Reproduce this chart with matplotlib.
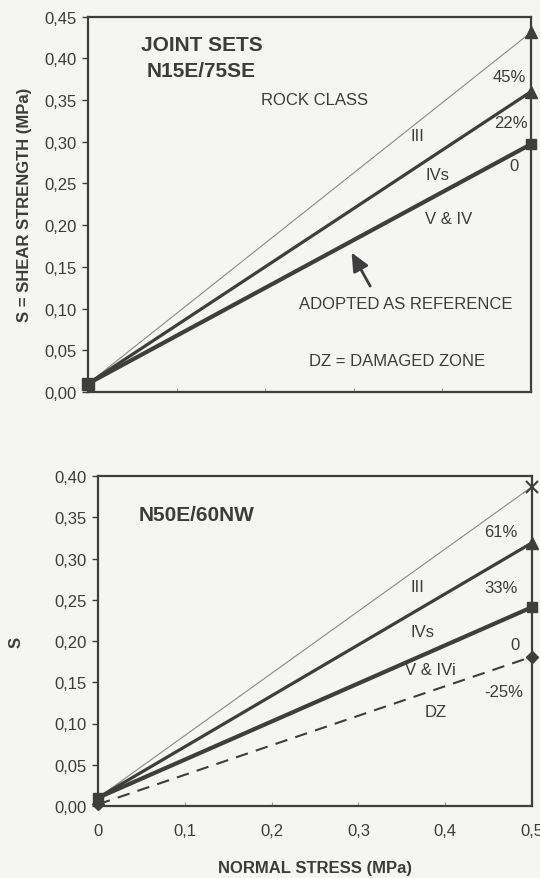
import matplotlib
matplotlib.use("Agg")
import matplotlib.pyplot as plt
import numpy as np

plt.rcParams['font.family'] = ['Liberation Sans', 'DejaVu Sans']

# ---- data ----
x_stress = [0.0, 0.5]
# top chart: joint set N15E/75SE
top_III = [0.010, 0.431]
top_IVs = [0.010, 0.360]
top_ref = [0.010, 0.297]
# bottom chart: joint set N50E/60NW
bot_X = [0.010, 0.387]
bot_III = [0.010, 0.319]
bot_IVs = [0.010, 0.241]
bot_DZ = [0.002, 0.181]

top_yticks = [0.00, 0.05, 0.10, 0.15, 0.20, 0.25, 0.30, 0.35, 0.40, 0.45]
bot_yticks = [0.00, 0.05, 0.10, 0.15, 0.20, 0.25, 0.30, 0.35, 0.40]
xticks = [0.0, 0.1, 0.2, 0.3, 0.4, 0.5]
xtick_labels = ["0", "0,1", "0,2", "0,3", "0,4", "0,5"]

BG = '#f5f5f3'
INK = '#3c3c3c'
LINE = '#3e3e3e'
THIN = '#8a8a8a'

fig = plt.figure(figsize=(5.4, 8.79), dpi=100, facecolor=BG)

def fmt(v):
    return f"{v:.2f}".replace('.', ',')

def style(ax, yticks, ymax):
    ax.set_facecolor(BG)
    ax.set_xlim(0, 0.5)
    ax.set_ylim(0, ymax)
    ax.set_yticks(yticks)
    ax.set_yticklabels([fmt(v) for v in yticks], fontsize=12, color=INK)
    ax.set_xticks(xticks)
    for s in ax.spines.values():
        s.set_color(LINE)
        s.set_linewidth(1.6)
    ax.tick_params(axis='y', direction='out', length=4, width=1, color=LINE, pad=4)
    ax.tick_params(axis='x', direction='in', length=3, width=0.8, color='#999999')

# ---------- top chart ----------
ax1 = fig.add_axes([88/540, 1-393/879, 443/540, 375.5/879])
style(ax1, top_yticks, 0.45)
ax1.set_xticklabels([])
ax1.plot(x_stress, top_III, color=THIN, lw=0.8, zorder=3)
ax1.plot(x_stress, top_IVs, color=LINE, lw=2.3, zorder=3)
ax1.plot(x_stress, top_ref, color=LINE, lw=3.0, zorder=3)
ax1.plot(x_stress[1], top_III[1], marker='^', ms=8, color=LINE, clip_on=False, zorder=5)
ax1.plot(x_stress[1], top_IVs[1], marker='^', ms=8, color=LINE, clip_on=False, zorder=5)
ax1.plot(x_stress[1], top_ref[1], marker='s', ms=7, color=LINE, clip_on=False, zorder=5)
ax1.plot(x_stress[0], top_ref[0], marker='s', ms=8, color=LINE, clip_on=False, zorder=5)
ax1.set_ylabel("S = SHEAR STRENGTH (MPa)", fontsize=12, fontweight='bold', color=INK, labelpad=9)

ax1.text(0.128, 0.401, "JOINT SETS\nN15E/75SE", fontsize=15, fontweight='bold',
         color=INK, ha='center', va='center', linespacing=1.45)
ax1.text(0.256, 0.351, "ROCK CLASS", fontsize=12, color=INK, ha='center', va='center')
ax1.text(0.372, 0.307, "III", fontsize=12, color=INK, ha='center', va='center')
ax1.text(0.394, 0.261, "IVs", fontsize=12, color=INK, ha='center', va='center')
ax1.text(0.407, 0.208, "V & IV", fontsize=12, color=INK, ha='center', va='center')
ax1.text(0.475, 0.378, "45%", fontsize=12, color=INK, ha='center', va='center')
ax1.text(0.477, 0.323, "22%", fontsize=12, color=INK, ha='center', va='center')
ax1.text(0.481, 0.271, "0", fontsize=12, color=INK, ha='center', va='center')
ax1.text(0.359, 0.106, "ADOPTED AS REFERENCE", fontsize=12, color=INK, ha='center', va='center')
ax1.text(0.349, 0.038, "DZ = DAMAGED ZONE", fontsize=12, color=INK, ha='center', va='center')
ax1.annotate("", xy=(0.296, 0.170), xytext=(0.320, 0.124),
             arrowprops=dict(arrowstyle='-|>,head_length=1.1,head_width=0.5',
                             color=LINE, lw=2.0))

# ---------- bottom chart ----------
ax2 = fig.add_axes([98/540, 1-807/879, 434/540, 330/879])
style(ax2, bot_yticks, 0.40)
ax2.set_xticklabels(xtick_labels, fontsize=12, color=INK)
ax2.tick_params(axis='x', pad=12)
ax2.plot(x_stress, bot_X, color=THIN, lw=0.8, zorder=3)
ax2.plot(x_stress, bot_III, color=LINE, lw=2.3, zorder=3)
ax2.plot(x_stress, bot_IVs, color=LINE, lw=3.0, zorder=3)
ax2.plot(x_stress, bot_DZ, color=LINE, lw=1.5, ls=(0, (6, 4)), zorder=3)
ax2.plot(x_stress[1], bot_X[1], marker='x', ms=9, mew=1.5, color=LINE, clip_on=False, zorder=5)
ax2.plot(x_stress[1], bot_III[1], marker='^', ms=8, color=LINE, clip_on=False, zorder=5)
ax2.plot(x_stress[1], bot_IVs[1], marker='s', ms=7, color=LINE, clip_on=False, zorder=5)
ax2.plot(x_stress[1], bot_DZ[1], marker='D', ms=6, color=LINE, clip_on=False, zorder=5)
ax2.plot(x_stress[0], bot_IVs[0], marker='s', ms=7, color=LINE, clip_on=False, zorder=5)
ax2.plot(x_stress[0], bot_DZ[0], marker='D', ms=6, color=LINE, clip_on=False, zorder=5)
ax2.set_ylabel("S", fontsize=12, fontweight='bold', color=INK, labelpad=22)
ax2.set_xlabel("NORMAL STRESS (MPa)", fontsize=12, fontweight='bold', color=INK, labelpad=16)

ax2.text(0.113, 0.353, "N50E/60NW", fontsize=15, fontweight='bold', color=INK,
         ha='center', va='center')
ax2.text(0.464, 0.333, "61%", fontsize=12, color=INK, ha='center', va='center')
ax2.text(0.368, 0.266, "III", fontsize=12, color=INK, ha='center', va='center')
ax2.text(0.464, 0.265, "33%", fontsize=12, color=INK, ha='center', va='center')
ax2.text(0.374, 0.212, "IVs", fontsize=12, color=INK, ha='center', va='center')
ax2.text(0.480, 0.196, "0", fontsize=12, color=INK, ha='center', va='center')
ax2.text(0.383, 0.166, "V & IVi", fontsize=12, color=INK, ha='center', va='center')
ax2.text(0.467, 0.139, "-25%", fontsize=12, color=INK, ha='center', va='center')
ax2.text(0.389, 0.114, "DZ", fontsize=12, color=INK, ha='center', va='center')

fig.savefig("out.png", dpi=100, facecolor=BG)
